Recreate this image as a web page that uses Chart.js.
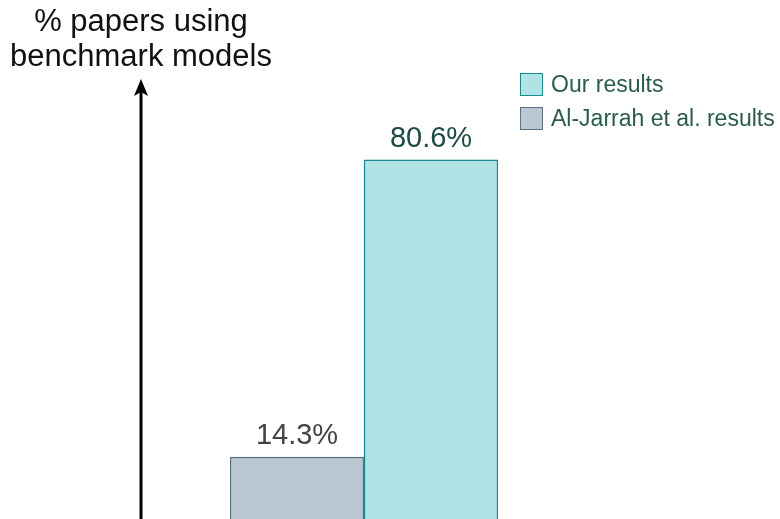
<!DOCTYPE html>
<html>
<head>
<meta charset="utf-8">
<script src="https://cdn.jsdelivr.net/npm/chart.js@4"></script>
<style>
  html, body { margin: 0; padding: 0; background: #fff; overflow: hidden; }
  #wrap { position: relative; width: 780px; height: 519px; overflow: hidden; }
  canvas { position: absolute; left: 0; top: 0; }
  .ytitle {
    position: absolute; left: 0; top: 3px; width: 282px; text-align: center;
    font-family: "Liberation Sans", Arial, sans-serif; font-size: 31px; line-height: 35px; color: #111;
  }
  .legend {
    position: absolute; left: 520px; top: 73px;
    font-family: "Liberation Sans", Arial, sans-serif; font-size: 23px; color: #2a5c48;
  }
  .legend .row { display: flex; align-items: center; height: 23px; margin-bottom: 11px; white-space: nowrap; }
  .legend .box { width: 21px; height: 21px; margin-right: 8px; }
</style>
</head>
<body>
<div id="wrap">
  <canvas id="chart" width="780" height="530"></canvas>
  <div class="ytitle">% papers using<br>benchmark models</div>
  <div class="legend" id="legend"></div>
</div>
<script>
// values
const categories = [''];
const seriesNames = ['Al-Jarrah et al. results', 'Our results'];
const alJarrah = [14.3];
const ours = [80.6];
const fills = ['#bac8d3', '#b0e3e6'];
const borders = ['#5a6f80', '#1a8a8f'];
const labelColors = ['#444444', '#1d4a45'];

// legend lists "Our results" first
const legend = document.getElementById('legend');
[1, 0].forEach(i => {
    const row = document.createElement('div');
    row.className = 'row';
    row.innerHTML = '<div class="box" style="background:' + fills[i] + ';border:1px solid ' + borders[i] + '"></div>' + seriesNames[i];
    legend.appendChild(row);
});

const extras = {
    id: 'extras',
    afterDatasetsDraw(chart) {
        const ctx = chart.ctx;
        // value labels above bars
        ctx.save();
        ctx.font = '29px "Liberation Sans", Arial, sans-serif';
        ctx.textAlign = 'center';
        ctx.textBaseline = 'alphabetic';
        chart.data.datasets.forEach((ds, i) => {
            chart.getDatasetMeta(i).data.forEach((bar, j) => {
                ctx.fillStyle = labelColors[i];
                ctx.fillText(ds.data[j].toFixed(1) + '%', bar.x, bar.y - 13);
            });
        });
        // arrow axis
        const x = 141;
        ctx.strokeStyle = '#000';
        ctx.fillStyle = '#000';
        ctx.lineWidth = 3;
        ctx.beginPath();
        ctx.moveTo(x, chart.height);
        ctx.lineTo(x, 92);
        ctx.stroke();
        ctx.beginPath();
        ctx.moveTo(x, 79);
        ctx.lineTo(x - 7, 96);
        ctx.lineTo(x, 92);
        ctx.lineTo(x + 7, 96);
        ctx.closePath();
        ctx.fill();
        ctx.restore();
    }
};

new Chart(document.getElementById('chart'), {
    type: 'bar',
    data: {
        labels: categories,
        datasets: [
            { label: seriesNames[0], data: alJarrah, backgroundColor: fills[0], borderColor: borders[0], borderWidth: 1.5 },
            { label: seriesNames[1], data: ours, backgroundColor: fills[1], borderColor: borders[1], borderWidth: 1.5 }
        ]
    },
    options: {
        responsive: false,
        animation: false,
        layout: { padding: { left: 230, right: 282, top: 73, bottom: 0 } },
        plugins: { legend: { display: false }, tooltip: { enabled: false } },
        datasets: { bar: { barPercentage: 1, categoryPercentage: 1 } },
        scales: {
            x: { display: false },
            y: { display: false, min: -2, max: 100 }
        }
    },
    plugins: [extras]
});
</script>
</body>
</html>
